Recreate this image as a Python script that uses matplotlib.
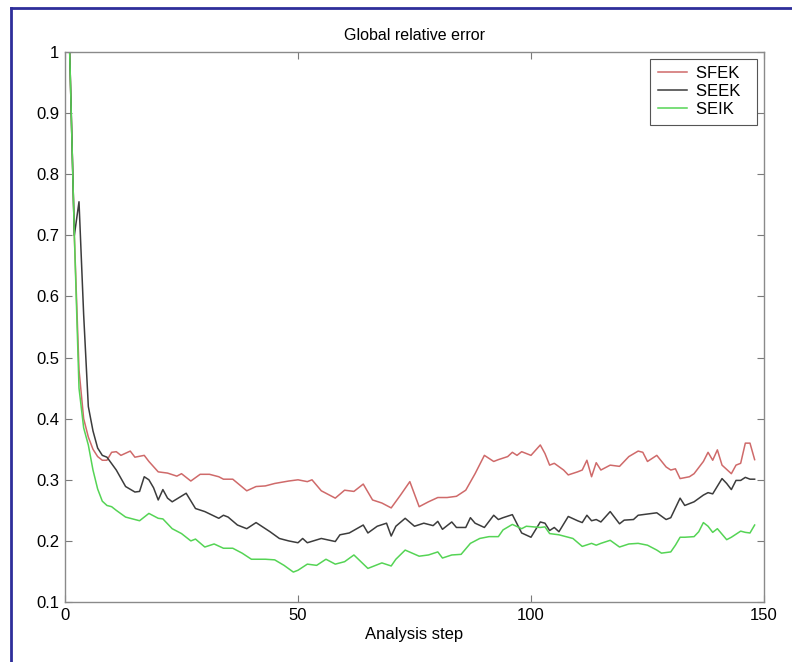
import matplotlib
matplotlib.use('Agg')
import matplotlib.pyplot as plt
from matplotlib.lines import Line2D
from matplotlib.ticker import FuncFormatter

# Datos (paso de analisis, error relativo)
pasos_sfek = [1, 2, 3, 4, 5, 6, 7, 8, 9, 10, 11, 12, 14, 15, 17, 18, 20, 22, 24, 25,
              27, 29, 31, 33, 34, 36, 39, 41, 43, 45, 48, 50, 52, 53, 55, 58, 60, 62,
              64, 66, 68, 70, 72, 74, 76, 78, 80, 82, 84, 86, 88, 90, 92, 93, 95, 96,
              97, 98, 100, 102, 103, 104, 105, 107, 108, 110, 111, 112, 113, 114, 115,
              117, 119, 121, 123, 124, 125, 127, 129, 130, 131, 132, 134, 135, 137, 138,
              139, 140, 141, 143, 144, 145, 146, 147, 148]
error_sfek = [1.0, 0.70, 0.48, 0.40, 0.37, 0.35, 0.338, 0.332, 0.332, 0.345, 0.346, 0.340,
              0.347, 0.337, 0.340, 0.330, 0.313, 0.311, 0.306, 0.310, 0.298, 0.309, 0.309,
              0.305, 0.301, 0.301, 0.282, 0.289, 0.290, 0.294, 0.298, 0.300, 0.297, 0.300,
              0.282, 0.270, 0.283, 0.281, 0.293, 0.267, 0.262, 0.254, 0.275, 0.297, 0.256,
              0.264, 0.271, 0.271, 0.273, 0.283, 0.310, 0.340, 0.330, 0.333, 0.338, 0.345,
              0.340, 0.346, 0.340, 0.357, 0.343, 0.324, 0.327, 0.316, 0.308, 0.313, 0.316,
              0.332, 0.305, 0.328, 0.316, 0.324, 0.322, 0.338, 0.347, 0.345, 0.330, 0.340,
              0.321, 0.316, 0.318, 0.302, 0.305, 0.310, 0.330, 0.345, 0.332, 0.349, 0.324,
              0.310, 0.324, 0.327, 0.360, 0.360, 0.333]

pasos_seek = [1, 2, 3, 4, 5, 6, 7, 8, 9, 11, 13, 15, 16, 17, 18, 19, 20, 21, 22, 23, 26,
              28, 30, 33, 34, 35, 37, 39, 41, 44, 46, 48, 50, 51, 52, 55, 58, 59, 61, 64,
              65, 67, 69, 70, 71, 73, 75, 77, 79, 80, 81, 83, 84, 86, 87, 88, 90, 92, 93,
              94, 96, 98, 100, 102, 103, 104, 105, 106, 108, 110, 111, 112, 113, 114, 115,
              117, 119, 120, 122, 123, 125, 127, 129, 130, 132, 133, 135, 137, 138, 139,
              141, 142, 143, 144, 145, 146, 147, 148]
error_seek = [1.0, 0.70, 0.755, 0.57, 0.42, 0.38, 0.352, 0.340, 0.337, 0.316, 0.289, 0.280,
              0.281, 0.305, 0.300, 0.287, 0.267, 0.284, 0.270, 0.264, 0.278, 0.253, 0.248,
              0.237, 0.242, 0.239, 0.226, 0.220, 0.230, 0.215, 0.204, 0.200, 0.197, 0.204,
              0.197, 0.204, 0.199, 0.210, 0.213, 0.226, 0.213, 0.224, 0.229, 0.208, 0.224,
              0.237, 0.224, 0.229, 0.225, 0.232, 0.219, 0.231, 0.222, 0.222, 0.238, 0.229,
              0.222, 0.242, 0.235, 0.238, 0.243, 0.213, 0.206, 0.231, 0.229, 0.217, 0.222,
              0.215, 0.240, 0.233, 0.230, 0.242, 0.233, 0.235, 0.231, 0.248, 0.228, 0.234,
              0.235, 0.242, 0.244, 0.246, 0.235, 0.238, 0.270, 0.258, 0.264, 0.275, 0.279,
              0.277, 0.302, 0.294, 0.284, 0.299, 0.299, 0.304, 0.301, 0.301]

pasos_seik = [1, 2, 3, 4, 5, 6, 7, 8, 9, 10, 11, 13, 16, 18, 20, 21, 23, 25, 27, 28, 30,
              32, 34, 36, 38, 40, 43, 45, 47, 49, 50, 52, 54, 56, 58, 60, 62, 65, 68, 70,
              71, 73, 76, 78, 80, 81, 83, 85, 87, 89, 91, 93, 94, 96, 98, 99, 102, 103,
              104, 106, 109, 111, 113, 114, 115, 117, 119, 121, 123, 125, 127, 128, 130,
              131, 132, 133, 135, 136, 137, 138, 139, 140, 142, 143, 145, 146, 147, 148]
error_seik = [1.0, 0.70, 0.45, 0.385, 0.357, 0.316, 0.285, 0.265, 0.258, 0.256, 0.250,
              0.239, 0.233, 0.245, 0.237, 0.236, 0.220, 0.212, 0.200, 0.203, 0.190, 0.195,
              0.188, 0.188, 0.180, 0.170, 0.170, 0.169, 0.160, 0.149, 0.152, 0.162, 0.160,
              0.170, 0.162, 0.166, 0.177, 0.155, 0.164, 0.159, 0.170, 0.185, 0.175, 0.177,
              0.182, 0.172, 0.177, 0.178, 0.196, 0.204, 0.207, 0.207, 0.218, 0.227, 0.220,
              0.224, 0.222, 0.223, 0.212, 0.210, 0.204, 0.191, 0.196, 0.193, 0.196, 0.201,
              0.190, 0.195, 0.196, 0.193, 0.185, 0.180, 0.182, 0.193, 0.206, 0.206, 0.207,
              0.215, 0.230, 0.224, 0.214, 0.220, 0.202, 0.206, 0.216, 0.214, 0.213, 0.226]

xticks = [0, 50, 100, 150]
yticks = [0.1, 0.2, 0.3, 0.4, 0.5, 0.6, 0.7, 0.8, 0.9, 1.0]

plt.rcParams['font.family'] = ['Liberation Sans', 'DejaVu Sans']
plt.rcParams['font.size'] = 12

fig = plt.figure(figsize=(7.92, 6.62), dpi=100)
ax = fig.add_axes([0.0821, 0.0906, 0.8825, 0.8308])

ax.plot(pasos_sfek, error_sfek, color='#cf6a6a', lw=1.1, label='SFEK')
ax.plot(pasos_seek, error_seek, color='#3c3c3c', lw=1.1, label='SEEK')
ax.plot(pasos_seik, error_seik, color='#55d455', lw=1.1, label='SEIK')

ax.set_xlim(0, 150)
ax.set_ylim(0.1, 1.0)
ax.set_xticks(xticks)
ax.set_yticks(yticks)
ax.yaxis.set_major_formatter(FuncFormatter(lambda v, p: f'{v:g}'))
ax.tick_params(direction='in', length=5, width=0.8, color='#7a7a7a',
               top=True, right=True, labelsize=12, pad=4)
for s in ax.spines.values():
    s.set_color('#8a8a8a')
    s.set_linewidth(1.0)

ax.set_title('Global relative error', fontsize=11.5, pad=9)
ax.set_xlabel('Analysis step', fontsize=12, labelpad=3)

leg = ax.legend(loc='upper right', fontsize=12, fancybox=False, framealpha=1,
                edgecolor='#555555', borderaxespad=0.4, handlelength=1.75,
                handletextpad=0.55, labelspacing=0.18, borderpad=0.45)
leg.get_frame().set_linewidth(0.8)
# un poco de aire a la derecha del texto, como en el original
for t in leg.get_texts():
    t.set_text(t.get_text() + '  ')

# Marco azul del recorte original (solo izquierda y arriba)
fig.add_artist(Line2D([11 / 792, 11 / 792], [0, 1 - 8 / 662], color='#2e2e9a', lw=2))
fig.add_artist(Line2D([11 / 792, 1], [1 - 8 / 662, 1 - 8 / 662], color='#2e2e9a', lw=2))

fig.savefig('out.png', dpi=100)
